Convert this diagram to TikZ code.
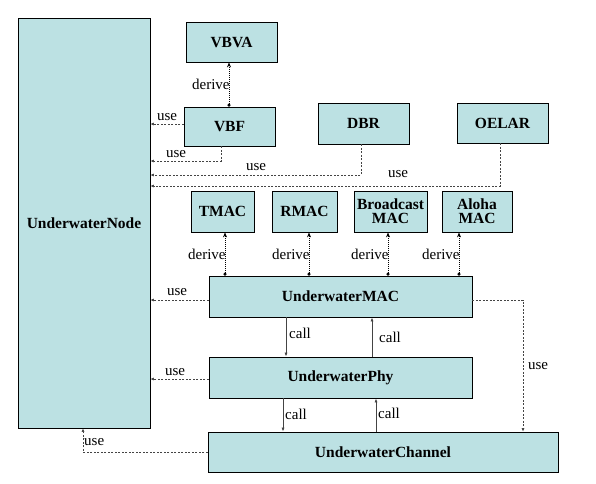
\documentclass[tikz,border=0pt]{standalone}
\usepackage{fontspec}
\setmainfont{Liberation Serif}
\usetikzlibrary{arrows.meta}
\definecolor{boxfill}{HTML}{BCE1E3}
\definecolor{linegray}{HTML}{444444}
\begin{document}
\begin{tikzpicture}[x=1pt,y=-1pt,
  box/.style={draw=black,fill=boxfill,line width=0.8pt,inner sep=0pt,font=\fontsize{15.5}{16}\selectfont\bfseries,align=center},
  usearrow/.style={draw=linegray,line width=0.6pt,dash pattern=on 2pt off 1.5pt,-{Latex[length=3.5pt,width=3pt]}},
  derivearrow/.style={draw=black,line width=0.8pt,dash pattern=on 1pt off 1pt,{Circle[length=3pt]}-{Stealth[length=5pt,width=4pt]}},
  callarrow/.style={draw=linegray,line width=0.7pt,-{Latex[length=4pt,width=3pt]}},
  lbl/.style={font=\fontsize{15}{15}\selectfont,inner sep=0pt}]
\useasboundingbox (0,0) rectangle (596,483);
% boxes
\node[box,minimum width=132pt,minimum height=410pt] (node) at (84,223) {UnderwaterNode};
\node[box,minimum width=91pt,minimum height=40pt] (vbva) at (231.5,42) {VBVA};
\node[box,minimum width=91pt,minimum height=39pt] (vbf) at (229.5,126.5) {VBF};
\node[box,minimum width=91pt,minimum height=41pt] (dbr) at (363.5,123.5) {DBR};
\node[box,minimum width=91pt,minimum height=40pt] (oelar) at (502.5,123) {OELAR};
\node[box,minimum width=63pt,minimum height=41pt] (tmac) at (222.5,211.5) {TMAC};
\node[box,minimum width=65pt,minimum height=41pt] (rmac) at (304.5,211.5) {RMAC};
\node[box,minimum width=73pt,minimum height=41pt] (bmac) at (390.5,211.5) {Broadcast\\[-2pt]MAC};
\node[box,minimum width=70pt,minimum height=41pt] (amac) at (477,211.5) {Aloha\\[-2pt]MAC};
\node[box,minimum width=263pt,minimum height=41pt] (mac) at (340.5,296.5) {UnderwaterMAC};
\node[box,minimum width=263pt,minimum height=41pt] (phy) at (340.5,377.5) {UnderwaterPhy};
\node[box,minimum width=350pt,minimum height=40pt] (chan) at (383,452) {UnderwaterChannel};
% derive arrows
\draw[derivearrow] (vbf.north -| 229,0) -- (vbva.south -| 229,0) node[lbl,midway,anchor=east,xshift=1pt] {derive};
\draw[derivearrow] (mac.north -| 225,0) -- (tmac.south -| 225,0) node[lbl,midway,anchor=east,xshift=1pt] {derive};
\draw[derivearrow] (mac.north -| 309,0) -- (rmac.south -| 309,0) node[lbl,midway,anchor=east,xshift=1pt] {derive};
\draw[derivearrow] (mac.north -| 388,0) -- (bmac.south -| 388,0) node[lbl,midway,anchor=east,xshift=1pt] {derive};
\draw[derivearrow] (mac.north -| 459,0) -- (amac.south -| 459,0) node[lbl,midway,anchor=east,xshift=1pt] {derive};
% use arrows
\draw[usearrow] (vbf.west |- 0,124) -- (node.east |- 0,124);
\node[lbl] (u1) at (167,117) {use};
\draw[usearrow] (vbf.south -| 221,0) |- (node.east |- 0,161);
\node[lbl] (u2) at (176,154) {use};
\draw[usearrow] (dbr.south -| 361,0) |- (node.east |- 0,175);
\node[lbl] (u3) at (256,167) {use};
\draw[usearrow] (oelar.south -| 500,0) |- (node.east |- 0,186);
\node[lbl] (u4) at (398,174) {use};
\draw[usearrow] (mac.west |- 0,300) -- (node.east |- 0,300);
\node[lbl] (u5) at (177,292) {use};
\draw[usearrow] (phy.west |- 0,379) -- (node.east |- 0,379);
\node[lbl] (u6) at (175,372) {use};
\draw[usearrow] (mac.east |- 0,300) -| (chan.north -| 523,0);
\node[lbl] (u7) at (538,366) {use};
\draw[usearrow] (chan.west) -| (node.south -| 83,0);
\node[lbl,anchor=west] (u8) at (84,442) {use};
% call arrows
\draw[callarrow] (mac.south -| 286,0) -- (phy.north -| 286,0);
\node[lbl,anchor=west] (c1) at (289,333) {call};
\draw[callarrow] (phy.north -| 372,0) -- (mac.south -| 372,0);
\node[lbl,anchor=west] (c2) at (379,337) {call};
\draw[callarrow] (phy.south -| 283,0) -- (chan.north -| 283,0);
\node[lbl,anchor=west] (c3) at (285,414) {call};
\draw[callarrow] (chan.north -| 376,0) -- (phy.south -| 376,0);
\node[lbl,anchor=west] (c4) at (378,413) {call};
\end{tikzpicture}
\end{document}
